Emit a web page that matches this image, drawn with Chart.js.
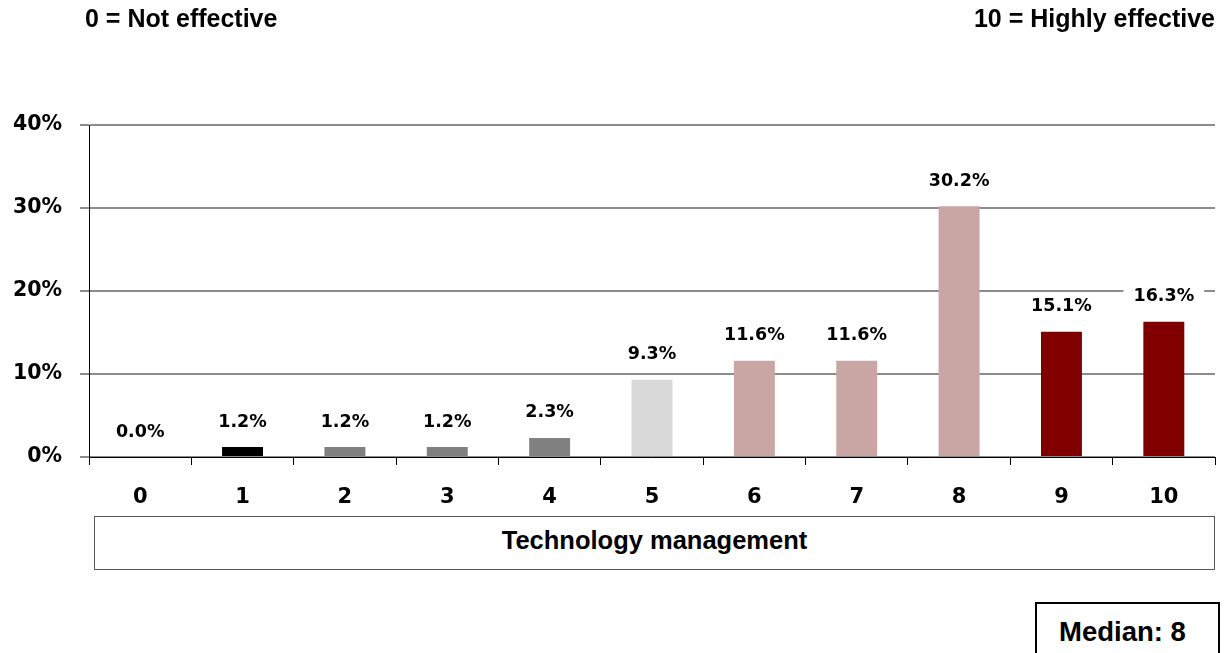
<!DOCTYPE html>
<html>
<head>
<meta charset="utf-8">
<script src="https://cdn.jsdelivr.net/npm/chart.js@4/dist/chart.umd.min.js"></script>
<style>
  html, body { margin:0; padding:0; background:#fff; }
  #wrap { position:relative; width:1225px; height:653px; overflow:hidden; }
  canvas { position:absolute; left:0; top:0; }
  .note { position:absolute; font-family:"Liberation Sans", Arial, sans-serif; font-weight:bold; color:#000; white-space:nowrap; line-height:1; }
  #left { left:85px; top:6px; font-size:25px; }
  #right { right:10px; top:6px; font-size:25px; }
  #xtitle { left:94px; top:516px; width:1121px; height:54px; border:1px solid #555; box-sizing:border-box;
            font-size:25.5px; display:flex; align-items:center; justify-content:center; padding-bottom:5px; background:#fff; }
  #median { left:1035px; top:602px; width:185px; height:60px; border:2px solid #000; box-sizing:border-box;
            font-size:27.5px; padding-top:14px; padding-right:10px; text-align:center; background:#fff; }
</style>
</head>
<body>
<div id="wrap">
  <canvas id="c" width="1225" height="653"></canvas>
  <div class="note" id="left">0 = Not effective</div>
  <div class="note" id="right">10 = Highly effective</div>
  <div class="note" id="xtitle">Technology management</div>
  <div class="note" id="median">Median: 8</div>
</div>
<script>
const categories = ["0", "1", "2", "3", "4", "5", "6", "7", "8", "9", "10"];
const values = [0.0, 1.2, 1.2, 1.2, 2.3, 9.3, 11.6, 11.6, 30.2, 15.1, 16.3];
const barColors = ["#000000", "#000000", "#808080", "#808080", "#808080", "#D9D9D9",
                   "#C9A5A3", "#C9A5A3", "#C9A5A3", "#800000", "#800000"];
const yTicks = [0, 10, 20, 30, 40];

const FONT = '"DejaVu Sans", sans-serif';

const valueLabels = {
  id: 'valueLabels',
  afterDatasetsDraw(chart) {
    const ctx = chart.ctx;
    const meta = chart.getDatasetMeta(0);
    ctx.save();
    ctx.font = 'bold 17.5px ' + FONT;
    ctx.textAlign = 'center';
    ctx.textBaseline = 'middle';
    meta.data.forEach((bar, i) => {
      const txt = values[i].toFixed(1) + '%';
      const y = bar.y - 25;
      const w = ctx.measureText(txt).width;
      ctx.fillStyle = '#fff';
      ctx.fillRect(bar.x - w / 2 - 10, y - 13, w + 20, 26);
      ctx.fillStyle = '#000';
      ctx.fillText(txt, bar.x, y);
    });
    ctx.restore();
  }
};

new Chart(document.getElementById('c'), {
  type: 'bar',
  data: {
    labels: categories,
    datasets: [{
      data: values,
      backgroundColor: barColors,
      borderWidth: 0,
      categoryPercentage: 1.0,
      barPercentage: 0.4
    }]
  },
  options: {
    responsive: false,
    devicePixelRatio: 1,
    animation: false,
    layout: { padding: { left: 0, right: 10, top: 125, bottom: 0 } },
    plugins: { legend: { display: false }, tooltip: { enabled: false } },
    scales: {
      x: {
        grid: { offset: true, drawOnChartArea: false, drawTicks: true, tickLength: 8, color: '#000', lineWidth: 1 },
        border: { display: true, color: '#000', width: 1 },
        ticks: { color: '#000', font: { family: FONT, weight: 'bold', size: 21 }, padding: 20 },
        afterFit(scale) { scale.height = 196; }
      },
      y: {
        min: 0, max: 40,
        afterBuildTicks(scale) { scale.ticks = yTicks.map(v => ({ value: v })); },
        grid: { color: '#8C8C8C', lineWidth: 2, drawTicks: true, tickLength: 9 },
        border: { display: true, color: '#000', width: 1 },
        ticks: { color: '#000', font: { family: FONT, weight: 'bold', size: 20.5 }, padding: 18,
                 callback: v => v + '%' },
        afterFit(scale) { scale.width = 89; }
      }
    }
  },
  plugins: [valueLabels]
});
</script>
</body>
</html>
